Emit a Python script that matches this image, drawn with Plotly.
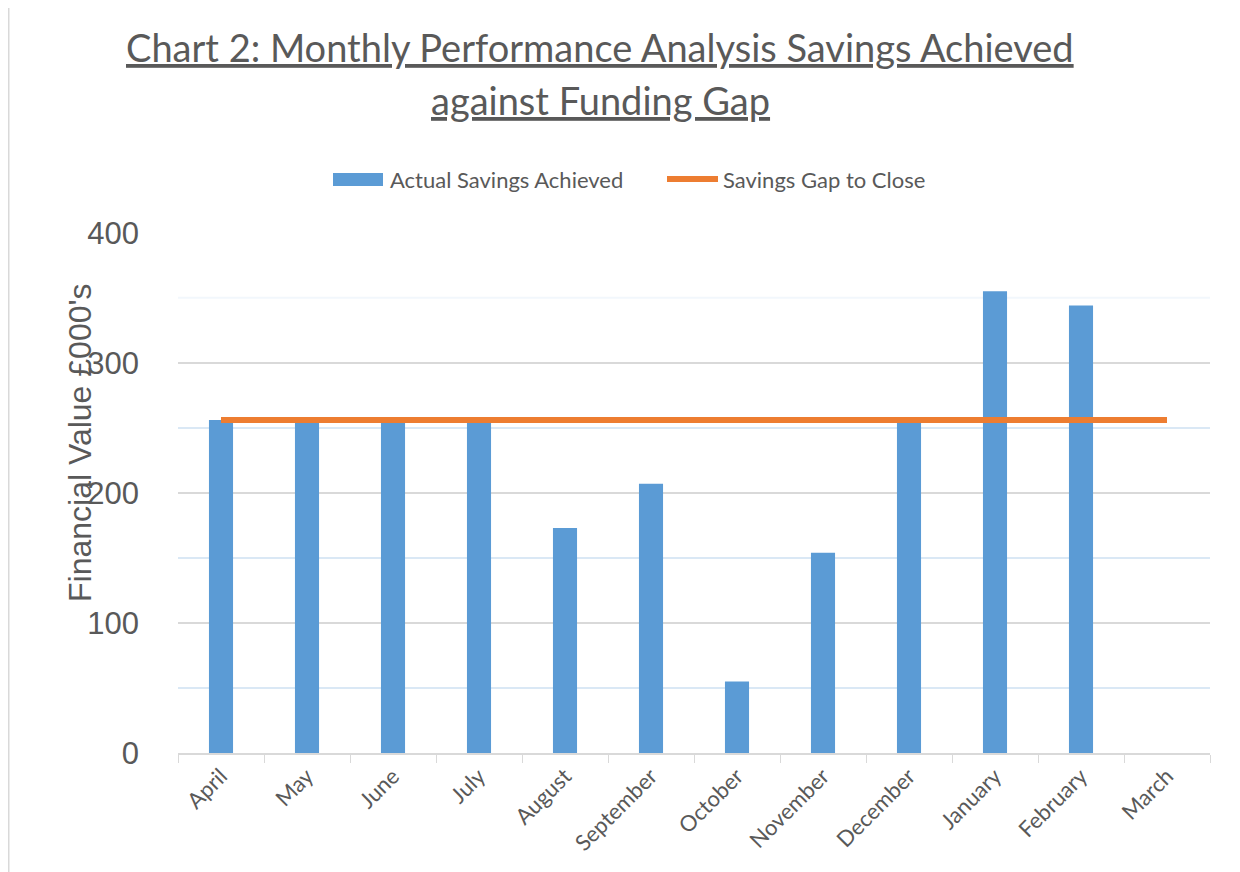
import plotly.graph_objects as go

months = ["April", "May", "June", "July", "August", "September", "October",
          "November", "December", "January", "February", "March"]
actual_savings = [256, 256, 256, 256, 173, 207, 55, 154, 256, 355, 344, None]
savings_gap = [256] * 12

grey = "#595959"
bar_color = "#5b9bd5"
line_color = "#ed7d31"

# page has an 8px body margin; figure sized so plot lands where the reference has it
W, H = 1232, 864
ML, MT, MR, MB = 170, 224, 30, 119
PW, PH = W - ML - MR, H - MT - MB


def px(X):  # screen x -> paper x
    return (X - 8 - ML) / PW


def py(Y):  # screen y -> paper y
    return (H - MB - (Y - 8)) / PH


fig = go.Figure()
fig.add_trace(go.Bar(
    x=months, y=actual_savings, name="Actual Savings Achieved",
    marker=dict(color=bar_color, line=dict(width=0)), width=0.28,
    showlegend=False,
))
fig.add_trace(go.Scatter(
    x=months, y=savings_gap, name="Savings Gap to Close", mode="lines",
    line=dict(color=line_color, width=6), showlegend=False,
))

fig.update_layout(
    width=W, height=H,
    margin=dict(l=ML, r=MR, t=MT, b=MB),
    paper_bgcolor="white", plot_bgcolor="white",
    font=dict(family="Lato", color=grey),
    showlegend=False,
)

# title (two lines)
for text, Y in (("Chart 2: Monthly Performance Analysis Savings Achieved", 47),
                ("against Funding Gap", 100)):
    fig.add_annotation(text=f"<u>{text}</u>", xref="paper", yref="paper",
                       x=px(600), y=py(Y), xanchor="center", yanchor="middle",
                       showarrow=False, font=dict(family="Lato", size=38, color=grey))

fig.update_xaxes(
    type="category", range=[-0.5, 11.5],
    showline=True, linecolor="#d9d9d9", linewidth=1.5,
    ticks="outside", tickson="boundaries", ticklen=8, tickcolor="#d9d9d9",
    tickangle=-45, tickfont=dict(family="Lato", size=22, color=grey),
    showgrid=False,
)
fig.update_yaxes(
    range=[0, 400.6], tickvals=[0, 100, 200, 300, 400],
    showgrid=True, gridcolor="#d9d9d9", gridwidth=1.5,
    minor=dict(tickvals=[50, 150, 250], showgrid=True, gridcolor="#dae8f5", gridwidth=1.5),
    zeroline=False, showline=False,
    tickfont=dict(family="Liberation Sans", size=31, color=grey),
    ticklabelstandoff=38,
)

# faint 350 minor gridline as in reference
fig.add_shape(type="line", xref="paper", yref="y", x0=0, x1=1, y0=350, y1=350,
              layer="below", line=dict(color="#f2f7fc", width=2))

fig.add_annotation(
    text="Financial Value £000's", xref="paper", yref="paper",
    x=px(80), y=py(443), xanchor="center", yanchor="middle",
    textangle=-90, showarrow=False,
    font=dict(family="Liberation Sans", size=32, color=grey),
)

# manual legend
fig.add_shape(type="rect", xref="paper", yref="paper",
              x0=px(333), x1=px(383), y0=py(186), y1=py(173),
              fillcolor=bar_color, line=dict(width=0))
fig.add_annotation(text="Actual Savings Achieved", xref="paper", yref="paper",
                   x=px(388), y=py(179), xanchor="left", yanchor="middle", showarrow=False,
                   font=dict(family="Lato", size=22, color=grey))
fig.add_shape(type="line", xref="paper", yref="paper",
              x0=px(667), x1=px(718), y0=py(179), y1=py(179),
              line=dict(color=line_color, width=6))
fig.add_annotation(text="Savings Gap to Close", xref="paper", yref="paper",
                   x=px(721), y=py(179), xanchor="left", yanchor="middle", showarrow=False,
                   font=dict(family="Lato", size=22, color=grey))

# chart border
for X in (8.5, 1237):
    fig.add_shape(type="line", xref="paper", yref="paper",
                  x0=px(X), x1=px(X), y0=py(872), y1=py(8),
                  line=dict(color="#d9d9d9", width=2))

fig.write_html("out.html")
